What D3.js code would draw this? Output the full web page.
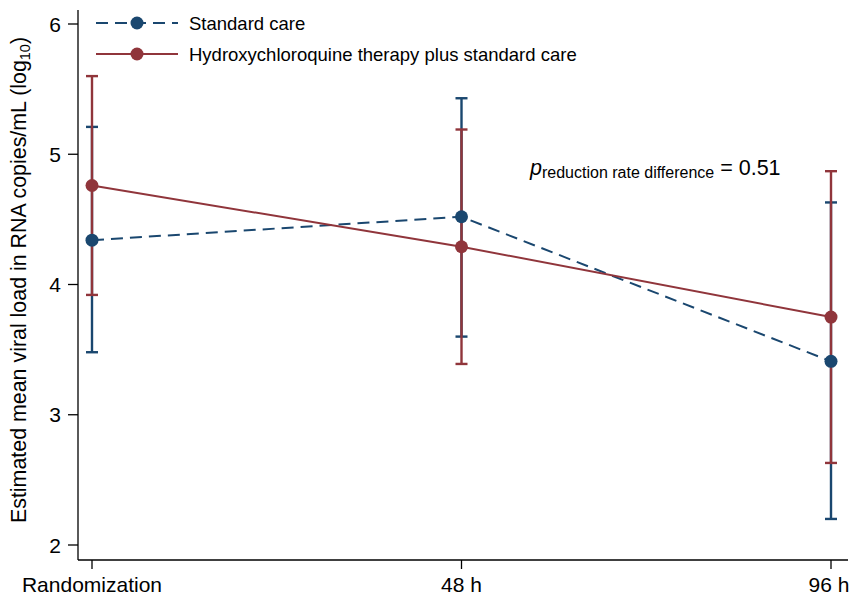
<!DOCTYPE html>
<html>
<head>
<meta charset="utf-8">
<script src="https://cdn.jsdelivr.net/npm/d3@7"></script>
<style>
  body { margin: 0; background: #fff; }
  svg { font-family: "Liberation Sans", Arial, sans-serif; }
</style>
</head>
<body>
<svg id="chart" width="853" height="596"></svg>
<script>
// data
var timepoints = ["Randomization", "48 h", "96 h"];
var yTicks = [2, 3, 4, 5, 6];

var stdMean  = [4.34, 4.52, 3.41];
var stdLower = [3.48, 3.60, 2.20];
var stdUpper = [5.21, 5.43, 4.63];

var hcqMean  = [4.76, 4.29, 3.75];
var hcqLower = [3.92, 3.39, 2.63];
var hcqUpper = [5.60, 5.19, 4.87];

var seriesNames = ["Standard care", "Hydroxychloroquine therapy plus standard care"];

var navy = "#1a476f", maroon = "#90353b";

var svg = d3.select("#chart");

var x = d3.scalePoint()
	.domain(timepoints)
	.range([92, 831]);

var y = d3.scaleLinear()
	.domain([2, 6])
	.range([545, 24]);

var axisLeftX = 78, axisBottomY = 560;

// y axis
svg.append("line")
	.attr("x1", axisLeftX).attr("x2", axisLeftX)
	.attr("y1", 10).attr("y2", axisBottomY)
	.attr("stroke", "#000").attr("stroke-width", 1.3);

yTicks.forEach(function(t) {
	svg.append("line")
		.attr("x1", axisLeftX - 10).attr("x2", axisLeftX)
		.attr("y1", y(t)).attr("y2", y(t))
		.attr("stroke", "#000").attr("stroke-width", 1.3);
	svg.append("text")
		.attr("x", axisLeftX - 17).attr("y", y(t) + 7.5)
		.attr("text-anchor", "end")
		.attr("font-size", 21)
		.text(t);
});

// x axis
svg.append("line")
	.attr("x1", axisLeftX).attr("x2", 848)
	.attr("y1", axisBottomY).attr("y2", axisBottomY)
	.attr("stroke", "#000").attr("stroke-width", 1.3);

timepoints.forEach(function(t) {
	svg.append("line")
		.attr("x1", x(t)).attr("x2", x(t))
		.attr("y1", axisBottomY).attr("y2", axisBottomY + 9)
		.attr("stroke", "#000").attr("stroke-width", 1.3);
	svg.append("text")
		.attr("x", t === "96 h" ? x(t) - 2 : x(t)).attr("y", 592)
		.attr("text-anchor", "middle")
		.attr("font-size", 21)
		.text(t);
});

// y title
var yt = svg.append("text")
	.attr("transform", "translate(26," + 280 + ") rotate(-90)")
	.attr("text-anchor", "middle")
	.attr("font-size", 21.4);
yt.append("tspan").text("Estimated mean viral load in RNA copies/mL (log");
yt.append("tspan").attr("font-size", 14.5).attr("dy", 4).text("10");
yt.append("tspan").attr("dy", -4).text(")");

// error bars
function drawBars(lower, upper, color) {
	var g = svg.append("g").attr("stroke", color).attr("stroke-width", 2.4);
	timepoints.forEach(function(t, i) {
		g.append("line")
			.attr("x1", x(t)).attr("x2", x(t))
			.attr("y1", y(lower[i])).attr("y2", y(upper[i]));
		[lower[i], upper[i]].forEach(function(v) {
			g.append("line")
				.attr("x1", x(t) - 6).attr("x2", x(t) + 6)
				.attr("y1", y(v)).attr("y2", y(v));
		});
	});
}
drawBars(stdLower, stdUpper, navy);
drawBars(hcqLower, hcqUpper, maroon);

var line = d3.line()
	.x(function(d, i) { return x(timepoints[i]); })
	.y(function(d) { return y(d); });

svg.append("path")
	.datum(stdMean)
	.attr("d", line)
	.attr("fill", "none")
	.attr("stroke", navy)
	.attr("stroke-width", 2)
	.attr("stroke-dasharray", "12,7");

svg.append("path")
	.datum(hcqMean)
	.attr("d", line)
	.attr("fill", "none")
	.attr("stroke", maroon)
	.attr("stroke-width", 2);

function drawPoints(vals, color) {
	svg.append("g").selectAll("circle")
		.data(vals)
		.enter().append("circle")
		.attr("cx", function(d, i) { return x(timepoints[i]); })
		.attr("cy", function(d) { return y(d); })
		.attr("r", 6.5)
		.attr("fill", color);
}
drawPoints(stdMean, navy);
drawPoints(hcqMean, maroon);

// legend
var legend = [
	{name: seriesNames[0], color: navy, dash: "12,7", ly: 23},
	{name: seriesNames[1], color: maroon, dash: null, ly: 54}
];
legend.forEach(function(l) {
	svg.append("line")
		.attr("x1", 96).attr("x2", 178)
		.attr("y1", l.ly).attr("y2", l.ly)
		.attr("stroke", l.color).attr("stroke-width", 2)
		.attr("stroke-dasharray", l.dash);
	svg.append("circle")
		.attr("cx", 137).attr("cy", l.ly).attr("r", 6.5)
		.attr("fill", l.color);
	svg.append("text")
		.attr("x", 189).attr("y", l.ly + 6.5)
		.attr("font-size", 18.5)
		.text(l.name);
});

// p annotation
var pt = svg.append("text")
	.attr("x", 530).attr("y", 175)
	.attr("font-size", 21.5);
pt.append("tspan").attr("font-style", "italic").text("p");
pt.append("tspan").attr("font-size", 16).attr("dy", 3).text("reduction rate difference");
pt.append("tspan").attr("dy", -3).text(" = 0.51");
</script>
</body>
</html>
